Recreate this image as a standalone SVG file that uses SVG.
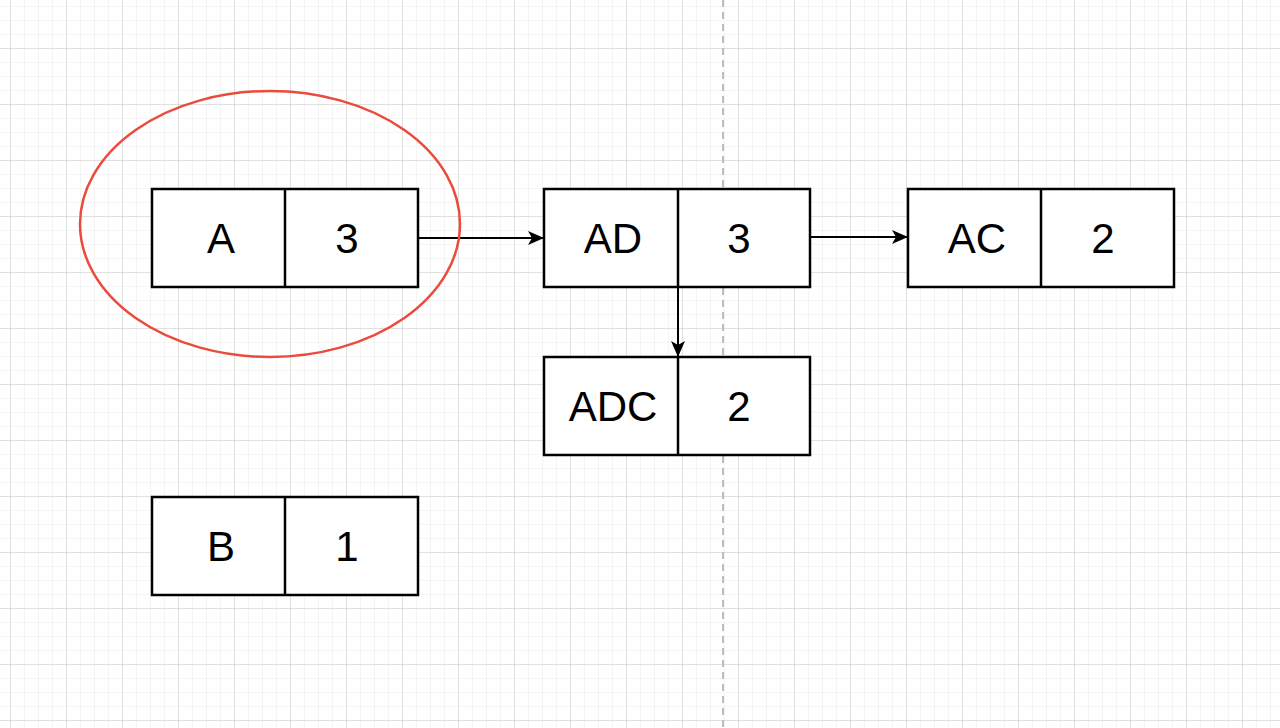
<svg xmlns="http://www.w3.org/2000/svg" width="1280" height="728" viewBox="0 0 1280 728">
<style>
.cell{fill:#fff;stroke:#000;stroke-width:2.5}
.div{stroke:#000;stroke-width:2.5}
.lbl{font-family:"Liberation Sans",Arial,sans-serif;font-size:42px;fill:#000;text-anchor:middle;dominant-baseline:central}
.edge{stroke:#000;stroke-width:2;fill:none}
</style>
<defs>
<pattern id="minor" width="14" height="14" patternUnits="userSpaceOnUse" x="10" y="6">
<path d="M0 0H14M0 0V14" stroke="#ececec" stroke-width="1.2" fill="none"/>
</pattern>
<pattern id="major" width="56" height="56" patternUnits="userSpaceOnUse" x="10" y="48">
<path d="M0 0H56M0 0V56" stroke="#cbcbcb" stroke-width="1" fill="none"/>
</pattern>
<marker id="arr" markerWidth="16" markerHeight="14" refX="16" refY="7" orient="auto" markerUnits="userSpaceOnUse" viewBox="0 0 16 14">
<path d="M0 0L16 7L0 14L4 7Z" fill="#000"/>
</marker>
</defs>
<rect width="1280" height="728" fill="#fff"/>
<rect width="1280" height="728" fill="url(#minor)"/>
<rect width="1280" height="728" fill="url(#major)"/>
<line x1="723" y1="0" x2="723" y2="728" stroke="#bdbdbd" stroke-width="2" stroke-dasharray="7 5"/>
<g id="connectors">
<path class="edge" d="M419 238H544" marker-end="url(#arr)"/>
<path class="edge" d="M811 237H908" marker-end="url(#arr)"/>
<path class="edge" d="M678 288V357" marker-end="url(#arr)"/>
</g>
<g id="highlight">
<ellipse cx="270" cy="224" rx="190" ry="133" fill="none" stroke="#ea4b3c" stroke-width="2.5"/>
</g>
<g id="node-A">
<rect class="cell" x="152" y="189" width="266" height="98"/>
<line class="div" x1="285" y1="189" x2="285" y2="287"/>
<text class="lbl" x="221" y="238">A</text>
<text class="lbl" x="347" y="238">3</text>
</g>
<g id="node-AD">
<rect class="cell" x="544" y="189" width="266" height="98"/>
<line class="div" x1="678" y1="189" x2="678" y2="287"/>
<text class="lbl" x="613" y="238">AD</text>
<text class="lbl" x="739" y="238">3</text>
</g>
<g id="node-AC">
<rect class="cell" x="908" y="189" width="266" height="98"/>
<line class="div" x1="1041" y1="189" x2="1041" y2="287"/>
<text class="lbl" x="977" y="238">AC</text>
<text class="lbl" x="1103" y="238">2</text>
</g>
<g id="node-ADC">
<rect class="cell" x="544" y="357" width="266" height="98"/>
<line class="div" x1="678" y1="357" x2="678" y2="455"/>
<text class="lbl" x="613" y="406">ADC</text>
<text class="lbl" x="739" y="406">2</text>
</g>
<g id="node-B">
<rect class="cell" x="152" y="497" width="266" height="98"/>
<line class="div" x1="285" y1="497" x2="285" y2="595"/>
<text class="lbl" x="221" y="546">B</text>
<text class="lbl" x="347" y="546">1</text>
</g>
</svg>
